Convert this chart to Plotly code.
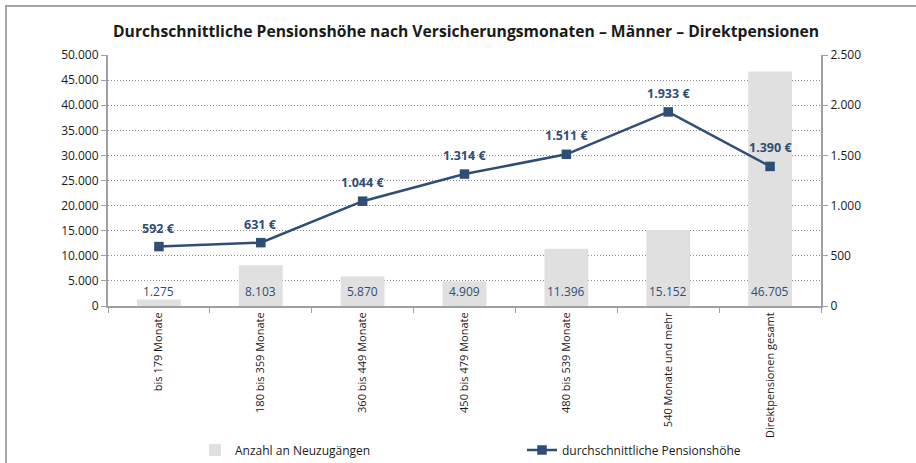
import plotly.graph_objects as go

categories = ["bis 179 Monate", "180 bis 359 Monate", "360 bis 449 Monate", "450 bis 479 Monate",
              "480 bis 539 Monate", "540 Monate und mehr", "Direktpensionen gesamt"]
neuzugaenge = [1275, 8103, 5870, 4909, 11396, 15152, 46705]
pensionshoehe = [592, 631, 1044, 1314, 1511, 1933, 1390]
left_ticks = [0, 5000, 10000, 15000, 20000, 25000, 30000, 35000, 40000, 45000, 50000]
right_ticks = [0, 500, 1000, 1500, 2000, 2500]

def de(n):
    return f"{n:,}".replace(",", ".")

W, H = 916, 463
L, R, T, B = 108, 95, 55, 157
pw, ph = W - L - R, H - T - B

FONT = "Open Sans"
DARK = "#2f4e75"
AX = "#a0a0a0"

fig = go.Figure()
fig.add_trace(go.Bar(
    x=categories, y=neuzugaenge, name="Anzahl an Neuzugängen",
    marker=dict(color="#e0e0e0", line=dict(width=0)), width=0.43,
    yaxis="y", hoverinfo="skip"))
fig.add_trace(go.Scatter(
    x=categories, y=pensionshoehe, name="durchschnittliche Pensionshöhe",
    mode="lines+markers", yaxis="y2",
    line=dict(color=DARK, width=2.5),
    marker=dict(symbol="square", size=9.5, color=DARK)))

annotations = []
for c, v in zip(categories, neuzugaenge):
    annotations.append(dict(x=c, y=0, xref="x", yref="y", text=de(v), showarrow=False,
                            yanchor="bottom", yshift=4,
                            font=dict(family=FONT, size=12, color=DARK)))
for c, v in zip(categories, pensionshoehe):
    annotations.append(dict(x=c, y=v, xref="x", yref="y2", text=f"<b>{de(v)} €</b>", showarrow=False,
                            yanchor="bottom", yshift=8,
                            font=dict(family=FONT, size=12.5, color=DARK)))
annotations.append(dict(x=(466 - L) / pw, y=1 + (T - 31) / ph, xref="paper", yref="paper",
                        text="<b>Durchschnittliche Pensionshöhe nach Versicherungsmonaten – Männer – Direktpensionen</b>",
                        showarrow=False, xanchor="center", yanchor="middle",
                        font=dict(family=FONT, size=15.7, color="#1a1a1a")))

shapes = [dict(type="rect", xref="paper", yref="paper",
               x0=(6 - L) / pw, x1=(W + 20 - L) / pw,
               y0=-(H + 20 - T - ph) / ph, y1=1 + (T - 6) / ph,
               line=dict(color="#a6a6a6", width=2), fillcolor="rgba(0,0,0,0)", layer="below")]

fig.update_layout(
    width=W, height=H, margin=dict(l=L, r=R, t=T, b=B, autoexpand=False),
    paper_bgcolor="white", plot_bgcolor="white",
    separators=",.",
    font=dict(family=FONT, size=11, color="#1a1a1a"),
    showlegend=True,
    legend=dict(orientation="h", x=(195 - L) / pw, y=-(450 - T - ph) / ph, xanchor="left", yanchor="middle",
                bgcolor="rgba(0,0,0,0)",
                font=dict(family=FONT, size=12, color="#1a1a1a"), entrywidth=282, itemwidth=30,
                traceorder="normal"),
    xaxis=dict(type="category", tickangle=-90, showline=True, linecolor=AX, linewidth=2,
               ticks="outside", ticklen=5, tickcolor=AX, tickson="boundaries", showgrid=False,
               tickfont=dict(family=FONT, size=11, color="#1a1a1a")),
    yaxis=dict(range=[0, 50000], tickvals=left_ticks, ticktext=[de(v) for v in left_ticks],
               showline=True, linecolor=AX, linewidth=2, ticks="outside", ticklen=5,
               tickcolor=AX, showgrid=True, gridcolor="#8a8a8a", griddash="1px,2px", gridwidth=1,
               zeroline=False, tickfont=dict(family=FONT, size=12, color="#1a1a1a")),
    yaxis2=dict(range=[0, 2500], tickvals=right_ticks, ticktext=[de(v) for v in right_ticks],
                overlaying="y", side="right", showline=True, linecolor=AX, linewidth=2,
                ticks="outside", ticklen=5, tickcolor=AX, showgrid=False, zeroline=False,
                tickfont=dict(family=FONT, size=12, color="#1a1a1a")),
    annotations=annotations, shapes=shapes,
)
fig.write_html("out.html", config={"displayModeBar": False},
               post_script="document.body.style.margin='0px';document.body.style.overflow='hidden';")
